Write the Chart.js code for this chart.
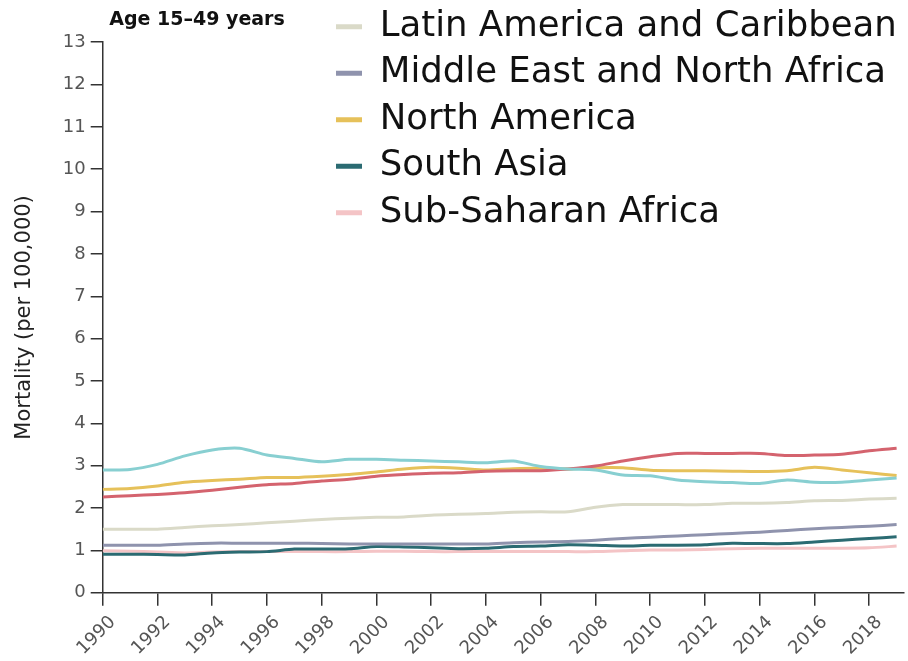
<!DOCTYPE html>
<html>
<head>
<meta charset="utf-8">
<script src="https://cdn.jsdelivr.net/npm/chart.js@4.4.1/dist/chart.umd.min.js"></script>
<style>
  html, body { margin: 0; padding: 0; background: #ffffff; }
  #wrap { width: 908px; height: 661px; }
</style>
</head>
<body>
<div id="wrap"><canvas id="chart" width="908" height="661"></canvas></div>
<script>
// Years on the x axis
const years = [1990, 1991, 1992, 1993, 1994, 1995, 1996, 1997, 1998, 1999,
               2000, 2001, 2002, 2003, 2004, 2005, 2006, 2007, 2008, 2009,
               2010, 2011, 2012, 2013, 2014, 2015, 2016, 2017, 2018, 2019];

// Mortality per 100,000, age 15–49, by region
const eastAsiaPacific = [2.90, 2.91, 3.03, 3.23, 3.37, 3.41, 3.25, 3.17, 3.09, 3.15,
                         3.15, 3.13, 3.11, 3.09, 3.07, 3.11, 2.98, 2.92, 2.90, 2.78,
                         2.76, 2.66, 2.62, 2.60, 2.58, 2.66, 2.61, 2.61, 2.66, 2.71];
const europeCentralAsia = [2.26, 2.29, 2.32, 2.36, 2.42, 2.49, 2.55, 2.58, 2.64, 2.68,
                           2.75, 2.79, 2.82, 2.83, 2.87, 2.88, 2.88, 2.92, 2.99, 3.11,
                           3.21, 3.29, 3.29, 3.29, 3.29, 3.24, 3.25, 3.27, 3.35, 3.41];
const latinAmerica = [1.50, 1.50, 1.50, 1.54, 1.58, 1.61, 1.65, 1.69, 1.73, 1.76,
                      1.78, 1.79, 1.83, 1.85, 1.87, 1.90, 1.91, 1.91, 2.02, 2.08,
                      2.08, 2.08, 2.08, 2.11, 2.11, 2.13, 2.17, 2.18, 2.21, 2.23];
const middleEastNorthAfrica = [1.12, 1.12, 1.12, 1.15, 1.17, 1.17, 1.17, 1.17, 1.16, 1.15,
                               1.15, 1.15, 1.15, 1.15, 1.15, 1.18, 1.20, 1.21, 1.24, 1.28,
                               1.31, 1.34, 1.37, 1.40, 1.43, 1.47, 1.51, 1.54, 1.57, 1.61];
const northAmerica = [2.44, 2.46, 2.52, 2.61, 2.65, 2.68, 2.72, 2.72, 2.75, 2.79,
                      2.85, 2.92, 2.96, 2.94, 2.90, 2.93, 2.94, 2.92, 2.95, 2.95,
                      2.89, 2.88, 2.88, 2.87, 2.86, 2.88, 2.96, 2.90, 2.83, 2.77];
const southAsia = [0.91, 0.91, 0.90, 0.89, 0.94, 0.96, 0.97, 1.03, 1.03, 1.04,
                   1.09, 1.08, 1.06, 1.04, 1.05, 1.09, 1.10, 1.13, 1.12, 1.10,
                   1.12, 1.12, 1.13, 1.17, 1.16, 1.16, 1.20, 1.24, 1.28, 1.32];
const subSaharanAfrica = [0.99, 0.98, 0.96, 0.94, 0.96, 0.97, 0.97, 0.97, 0.97, 0.97,
                          0.98, 0.98, 0.97, 0.97, 0.97, 0.97, 0.97, 0.97, 0.97, 0.99,
                          1.01, 1.01, 1.02, 1.04, 1.05, 1.05, 1.05, 1.05, 1.06, 1.10];

const regionNames = ['East Asia and Pacific', 'Europe and Central Asia', 'Latin America and Caribbean',
                     'Middle East and North Africa', 'North America', 'South Asia', 'Sub-Saharan Africa'];
const regionValues = [eastAsiaPacific, europeCentralAsia, latinAmerica,
                      middleEastNorthAfrica, northAmerica, southAsia, subSaharanAfrica];
const regionColors = ['#88cfd1', '#d4636e', '#dadac8', '#8f93ad', '#e6c15a', '#2b6b72', '#f4c4c6'];

const titleText = 'Age 15\u201349 years';
const yAxisTitle = 'Mortality (per 100,000)';

Chart.defaults.font.family = '"DejaVu Sans", sans-serif';

// Places the title beside the y axis and the legend over the upper plot area
const placeBlocks = {
  id: 'placeBlocks',
  afterLayout(chart) {
    const area = chart.chartArea;
    const t = chart.titleBlock;
    if (t) { t.left = area.left + 6.5; }
    const lg = chart.legend;
    if (lg) {
      const w = lg.width, h = lg.height;
      lg.left = 325; lg.right = 325 + w;
      lg.top = -95; lg.bottom = -95 + h;
    }
  }
};

const datasets = regionNames.map((name, i) => ({
  label: name,
  data: regionValues[i],
  borderColor: regionColors[i],
  backgroundColor: regionColors[i],
  borderWidth: 3,
  pointRadius: 0,
  pointHoverRadius: 0,
  fill: false,
  tension: 0.25
}));

new Chart(document.getElementById('chart'), {
  type: 'line',
  data: { labels: years, datasets },
  plugins: [placeBlocks],
  options: {
    responsive: false,
    animation: false,
    events: [],
    layout: { padding: { left: 0, right: 4, top: 0, bottom: 0 } },
    plugins: {
      tooltip: { enabled: false },
      title: {
        display: true,
        text: titleText,
        align: 'start',
        color: '#111111',
        font: { size: 19, weight: 'bold' },
        padding: { top: 8.6, bottom: 10.8 }
      },
      legend: {
        display: true,
        position: 'chartArea',
        align: 'start',
        labels: {
          color: '#111111',
          font: { size: 35.5 },
          boxWidth: 26,
          boxHeight: 5,
          padding: 11,
          generateLabels(chart) {
            const items = Chart.defaults.plugins.legend.labels.generateLabels(chart);
            return items.map(it => Object.assign(it, { lineWidth: 0 }));
          }
        }
      }
    },
    scales: {
      x: {
        type: 'linear',
        min: 1990,
        max: 2019.27,
        afterFit(scale) { scale.height = 68.3; },
        grid: { display: true, drawOnChartArea: false, drawTicks: true, tickLength: 13, color: '#333333', lineWidth: 1.5 },
        border: { display: true, color: '#333333', width: 1.5 },
        ticks: {
          stepSize: 2,
          includeBounds: false,
          autoSkip: false,
          maxRotation: 45,
          minRotation: 45,
          padding: 6,
          labelOffset: 10,
          color: '#555555',
          font: { size: 18 },
          callback: v => String(v)
        }
      },
      y: {
        min: 0,
        max: 13,
        afterFit(scale) { scale.width = 102.7; },
        grid: { display: true, drawOnChartArea: false, drawTicks: true, tickLength: 12, color: '#333333', lineWidth: 1.5 },
        border: { display: true, color: '#333333', width: 1.5 },
        ticks: { stepSize: 1, padding: 5, color: '#555555', font: { size: 18 } },
        title: {
          display: true,
          text: yAxisTitle,
          color: '#222222',
          font: { size: 21 },
          padding: { top: 12.2, bottom: 0 }
        }
      }
    }
  }
});
</script>
</body>
</html>
